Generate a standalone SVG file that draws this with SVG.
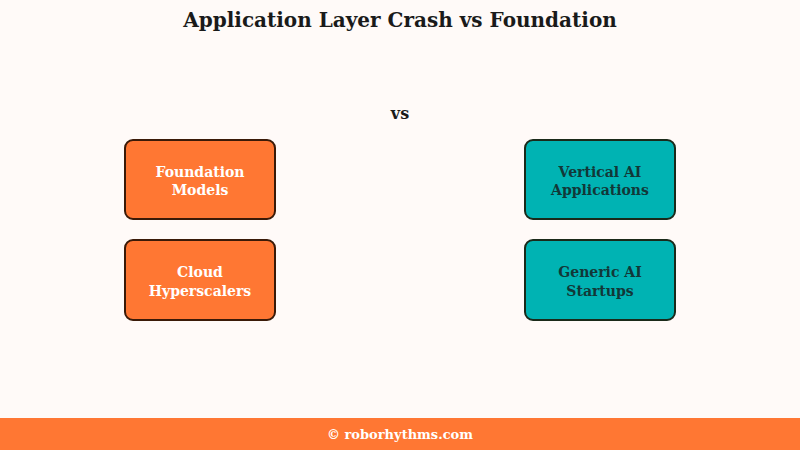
<svg xmlns="http://www.w3.org/2000/svg" width="800" height="450" viewBox="0 0 800 450">
<style>
text{font-family:"DejaVu Serif","Liberation Serif",serif;font-weight:bold;text-anchor:middle}
.o{fill:#FF7733;stroke:#3a1a08;stroke-width:2}
.t{fill:#00B3B3;stroke:#1a2a1a;stroke-width:2}
.lw{fill:#ffffff;font-size:14px}
.ld{fill:#123838;font-size:14px}
</style>
<rect width="800" height="450" fill="#FFFAF8"/>
<text x="400" y="27" font-size="20" fill="#1a1a1a">Application Layer Crash vs Foundation</text>
<text x="400" y="119" font-size="16" fill="#1a1a1a">vs</text>
<g id="connectors"/>
<g id="foundation-models"><rect class="o" x="125" y="140" width="150" height="79" rx="8"/><text class="lw" x="200" y="177">Foundation</text><text class="lw" x="200" y="195">Models</text></g>
<g id="cloud-hyperscalers"><rect class="o" x="125" y="240" width="150" height="80" rx="8"/><text class="lw" x="200" y="277">Cloud</text><text class="lw" x="200" y="296">Hyperscalers</text></g>
<g id="vertical-ai"><rect class="t" x="525" y="140" width="150" height="79" rx="8"/><text class="ld" x="600" y="177">Vertical AI</text><text class="ld" x="600" y="195">Applications</text></g>
<g id="generic-ai"><rect class="t" x="525" y="240" width="150" height="80" rx="8"/><text class="ld" x="600" y="277">Generic AI</text><text class="ld" x="600" y="296">Startups</text></g>
<rect x="0" y="418" width="800" height="32" fill="#FF7733"/>
<text x="400" y="439" font-size="13" fill="#ffffff">© roborhythms.com</text>
</svg>
